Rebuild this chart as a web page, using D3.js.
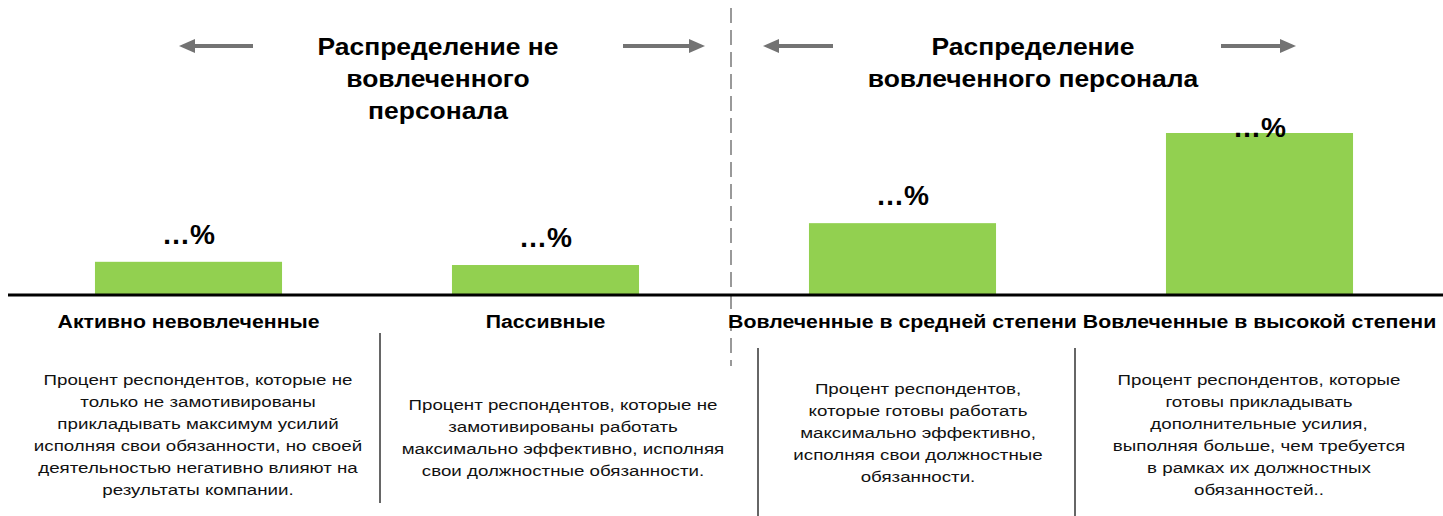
<!DOCTYPE html>
<html>
<head>
<meta charset="utf-8">
<script src="https://cdn.jsdelivr.net/npm/d3@7"></script>
<style>
  body { margin: 0; background: #fff; }
  svg { display: block; font-family: "Liberation Sans", Arial, sans-serif; }
</style>
</head>
<body>
<div id="chart"></div>
<script>
// categories and (placeholder) shares
const categories = [
  'Активно невовлеченные',
  'Пассивные',
  'Вовлеченные в средней степени',
  'Вовлеченные в высокой степени'
];
const values = [10, 9, 22, 50];
const valueLabels = ['…%', '…%', '…%', '…%'];

const groupTitles = [
  ['Распределение не', 'вовлеченного', 'персонала'],
  ['Распределение', 'вовлеченного персонала']
];

const descriptions = [
  ['Процент респондентов, которые не', 'только не замотивированы', 'прикладывать максимум усилий',
   'исполняя свои обязанности, но своей', 'деятельностью негативно влияют на', 'результаты компании.'],
  ['Процент респондентов, которые не', 'замотивированы работать',
   'максимально эффективно, исполняя', 'свои должностные обязанности.'],
  ['Процент респондентов,', 'которые готовы работать', 'максимально эффективно,',
   'исполняя свои должностные', 'обязанности.'],
  ['Процент респондентов, которые', 'готовы прикладывать', 'дополнительные усилия,',
   'выполняя больше, чем требуется', 'в рамках их должностных', 'обязанностей..']
];

const W = 1443, H = 516;
const baseY = 294;

const svg = d3.select('#chart').append('svg')
  .attr('width', W).attr('height', H);

const x = d3.scaleBand().domain(categories).range([10, 1438])
  .paddingInner(0.476).paddingOuter(0.238);
const y = d3.scaleLinear().domain([0, 50]).range([baseY, 133]);

// the source picture is a little stretched horizontally, so text is too
function stretchedText(cx, sx) {
  return svg.append('g')
    .attr('transform', `translate(${cx},0) scale(${sx},1)`)
    .append('text').attr('text-anchor', 'middle');
}

// dashed separator between the two groups
svg.append('line')
  .attr('x1', 731).attr('x2', 731).attr('y1', 8).attr('y2', 366)
  .attr('stroke', '#999').attr('stroke-width', 2)
  .attr('stroke-dasharray', '15,7');

// group titles
const titleCx = [438, 1033];
groupTitles.forEach((lines, i) => {
  stretchedText(titleCx[i], 1.15)
    .style('font-size', '23px').style('font-weight', 'bold')
    .selectAll('tspan').data(lines).join('tspan')
    .attr('x', 0).attr('y', (d, j) => 55 + j * 32)
    .text(d => d);
});

// arrows
const arrows = [
  { from: 253, to: 179 }, { from: 623, to: 705 },
  { from: 833, to: 763 }, { from: 1221, to: 1296 }
];
arrows.forEach(a => {
  const dir = Math.sign(a.to - a.from);
  const ay = 46, head = 16;
  svg.append('line')
    .attr('x1', a.from).attr('x2', a.to - dir * head + dir * 2)
    .attr('y1', ay).attr('y2', ay)
    .attr('stroke', '#737373').attr('stroke-width', 4);
  svg.append('path')
    .attr('d', `M${a.to},${ay} L${a.to - dir * head},${ay - 7} L${a.to - dir * head},${ay + 7} Z`)
    .attr('fill', '#737373');
});

// bars
svg.selectAll('rect.bar').data(categories).join('rect')
  .attr('class', 'bar')
  .attr('x', d => x(d))
  .attr('width', x.bandwidth())
  .attr('y', (d, i) => y(values[i]))
  .attr('height', (d, i) => baseY - y(values[i]))
  .attr('fill', '#92d050');

// value labels
categories.forEach((c, i) => {
  stretchedText(x(c) + x.bandwidth() / 2, 1.04)
    .attr('y', Math.max(y(values[i]) - 18, 137))
    .style('font-size', '27px').style('font-weight', 'bold')
    .text(valueLabels[i]);
});

// baseline
svg.append('line')
  .attr('x1', 8).attr('x2', W).attr('y1', baseY + 1).attr('y2', baseY + 1)
  .attr('stroke', '#000').attr('stroke-width', 3);

// category labels
categories.forEach(c => {
  stretchedText(x(c) + x.bandwidth() / 2, 1.12)
    .attr('y', 328)
    .style('font-size', '19px').style('font-weight', 'bold')
    .text(c);
});

// solid dividers between descriptions
[[380, 333, 503], [758, 348, 516], [1075, 348, 516]].forEach(([lx, y1, y2]) => {
  svg.append('line')
    .attr('x1', lx).attr('x2', lx).attr('y1', y1).attr('y2', y2)
    .attr('stroke', '#666').attr('stroke-width', 2);
});

// descriptions
const descCx = [198, 563, 918, 1259];
const descTop = [385, 410, 394, 385];
descriptions.forEach((lines, i) => {
  stretchedText(descCx[i], 1.25)
    .style('font-size', '15px')
    .attr('fill', '#111')
    .selectAll('tspan').data(lines).join('tspan')
    .attr('x', 0).attr('y', (d, j) => descTop[i] + j * 22)
    .text(d => d);
});
</script>
</body>
</html>
